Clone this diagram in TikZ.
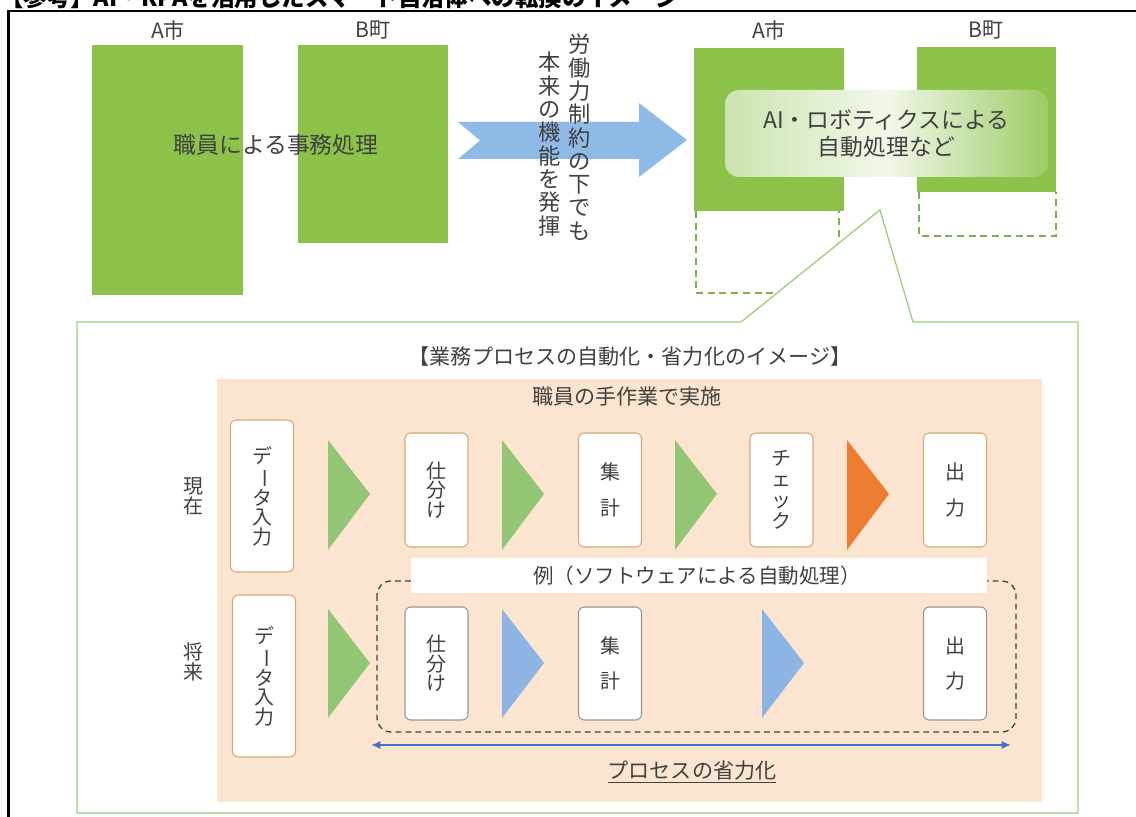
\documentclass[tikz,border=0pt]{standalone}
\usepackage{fontspec}
\setmainfont{Noto Sans CJK JP}
\usetikzlibrary{calc,arrows.meta}

\definecolor{cityg}{RGB}{140,194,74}
\definecolor{dashg}{RGB}{125,175,75}
\definecolor{bigarr}{RGB}{142,186,229}
\definecolor{peach}{RGB}{252,229,208}
\definecolor{callg}{RGB}{160,205,120}
\definecolor{trig}{RGB}{146,198,116}
\definecolor{trio}{RGB}{237,125,49}
\definecolor{trib}{RGB}{141,180,226}
\definecolor{boxo}{RGB}{214,168,120}
\definecolor{boxg}{RGB}{150,150,150}
\definecolor{txtg}{RGB}{64,64,64}
\definecolor{savearr}{RGB}{68,114,196}

\newlength{\ux}
\setlength{\ux}{0.03cm}

\tikzset{
  citylbl/.style={text=txtg, font=\fontsize{18}{18}\selectfont},
  bigtxt/.style={text=txtg, font=\fontsize{19.5}{23}\selectfont},
  tatetxt/.style={text=txtg, align=center, font=\fontsize{19}{19.9}\selectfont},
  midtxt/.style={text=txtg, font=\fontsize{18}{18}\selectfont},
  rowlbl/.style={text=txtg, align=center, font=\fontsize{17}{17}\selectfont},
  stepbox/.style={draw=boxo, fill=white, line width=0.9pt, rounded corners=5pt,
    align=center, text=txtg, inner sep=0pt, minimum width=63\ux,
    font=\fontsize{17}{16.5}\selectfont},
  autobox/.style={stepbox, draw=boxg},
}
\newcommand{\nobi}{\rotatebox[origin=c]{-90}{ー}}

\begin{document}
\begin{tikzpicture}[x=0.03cm, y=-0.03cm]
\useasboundingbox (0,0) rectangle (1136,817);

% 見出し (上が切れている)
\begin{scope}
\clip (0,0) rectangle (1136,9.5);
\node[anchor=base west, inner sep=0pt, font=\bfseries\fontsize{20}{20}\selectfont] (title) at (0,7)
  {【参考】AI・RPAを活用したスマート自治体への転換のイメージ};
\end{scope}
\draw[line width=2.1pt] (8.5,817) -- (8.5,11) -- (1136,11);

% 現状
\fill[cityg] (92,45) rectangle (243,295);
\fill[cityg] (298,45) rectangle (448,243);
\node[citylbl] (shiA) at (168,30) {A市};
\node[citylbl] (choB) at (373,30) {B町};
\node[bigtxt] (jimu) at (276,145) {職員による事務処理};

% 大きな矢印
\fill[bigarr] (458,122) -- (639,122) -- (639,103) -- (687,140) -- (639,177)
  -- (639,159) -- (458,159) -- (480,140.5) -- cycle;
\node[tatetxt, anchor=north] (seiyaku) at (580,30) {労\\働\\力\\制\\約\\の\\下\\で\\も};
\node[tatetxt, anchor=north] (kinou) at (550,48) {本\\来\\の\\機\\能\\を\\発\\揮};

% 将来
\fill[cityg] (694,48) rectangle (844,211);
\fill[cityg] (917,47) rectangle (1056,192);
\draw[dashg, line width=1.6pt, dash pattern=on 6pt off 4pt] (696,211) -- (696,293) -- (839,293) -- (839,211);
\draw[dashg, line width=1.6pt, dash pattern=on 6pt off 4pt] (919,192) -- (919,236) -- (1056,236) -- (1056,192);
\node[citylbl] (shiA2) at (769,30) {A市};
\node[citylbl] (choB2) at (986,30) {B町};
\node[rounded corners=12pt, minimum width=323\ux, minimum height=87\ux,
  left color=cityg!45!white, right color=cityg!85!white, middle color=cityg!12!white,
  align=center, bigtxt, font=\fontsize{19.5}{23.5}\selectfont] (robo) at (886.5,133.5)
  {AI・ロボティクスによる\\自動処理など};

% 吹き出し
\draw[callg, line width=1.1pt, fill=white] (77,322) -- (741,322) -- (880,210) -- (913,322)
  -- (1078,322) -- (1078,813) -- (77,813) -- cycle;
\fill[peach] (217,379) rectangle (1042,802);
\node[midtxt] (imgtitle) at (630,356) {【業務プロセスの自動化・省力化のイメージ】};
\node[midtxt] (tesagyo) at (627,396) {職員の手作業で実施};

% 現在
\node[rowlbl] (genzai) at (193,496) {現\\在};
\node[stepbox, minimum height=152\ux] (data1) at (262,496) {デ\\\nobi\\タ\\入\\力};
\node[stepbox, minimum height=114\ux] (shiwake1) at (436.5,490) {仕\\分\\け};
\node[stepbox, minimum height=114\ux] (shukei1) at (610,490) {集\\[14pt]計};
\node[stepbox, minimum height=114\ux] (check1) at (781.5,490) {チ\\[1.5pt]ェ\\[1.5pt]ッ\\[1.5pt]ク};
\node[stepbox, minimum height=114\ux] (out1) at (955,490) {出\\[14pt]力};
\foreach \x/\c in {328/trig,502/trig,675/trig,847/trio}
  \fill[\c] (\x,440) -- (\x+42,494) -- (\x,550) -- cycle;

% 将来
\draw[txtg, line width=1.1pt, dash pattern=on 5pt off 3.5pt, rounded corners=12pt]
  (377,581) rectangle (1016,732);
\fill[white] (411,558) rectangle (987,593);
\node[midtxt, font=\fontsize{17.5}{17.5}\selectfont] (rei) at (697,575.5) {例（ソフトウェアによる自動処理）};
\node[rowlbl] (shorai) at (193,662) {将\\来};
\node[stepbox, minimum height=162\ux] (data2) at (264,676) {デ\\\nobi\\タ\\入\\力};
\node[autobox, minimum height=113\ux] (shiwake2) at (436.5,663.5) {仕\\分\\け};
\node[autobox, minimum height=113\ux] (shukei2) at (610,663.5) {集\\[14pt]計};
\node[autobox, minimum height=113\ux] (out2) at (955,663.5) {出\\[14pt]力};
\foreach \x/\c in {328/trig,502/trib,762/trib}
  \fill[\c] (\x,609) -- (\x+42,663) -- (\x,718) -- cycle;

% 省力化
\coordinate (sL) at (371,745);
\coordinate (sR) at (1011,745);
\draw[savearr, line width=2.2pt, {Latex[length=8pt,width=7pt]}-{Latex[length=8pt,width=7pt]}] (sL) -- (sR);
\node[midtxt] (shoryoku) at (692,772) {\underline{プロセスの省力化}};
\end{tikzpicture}
\end{document}
